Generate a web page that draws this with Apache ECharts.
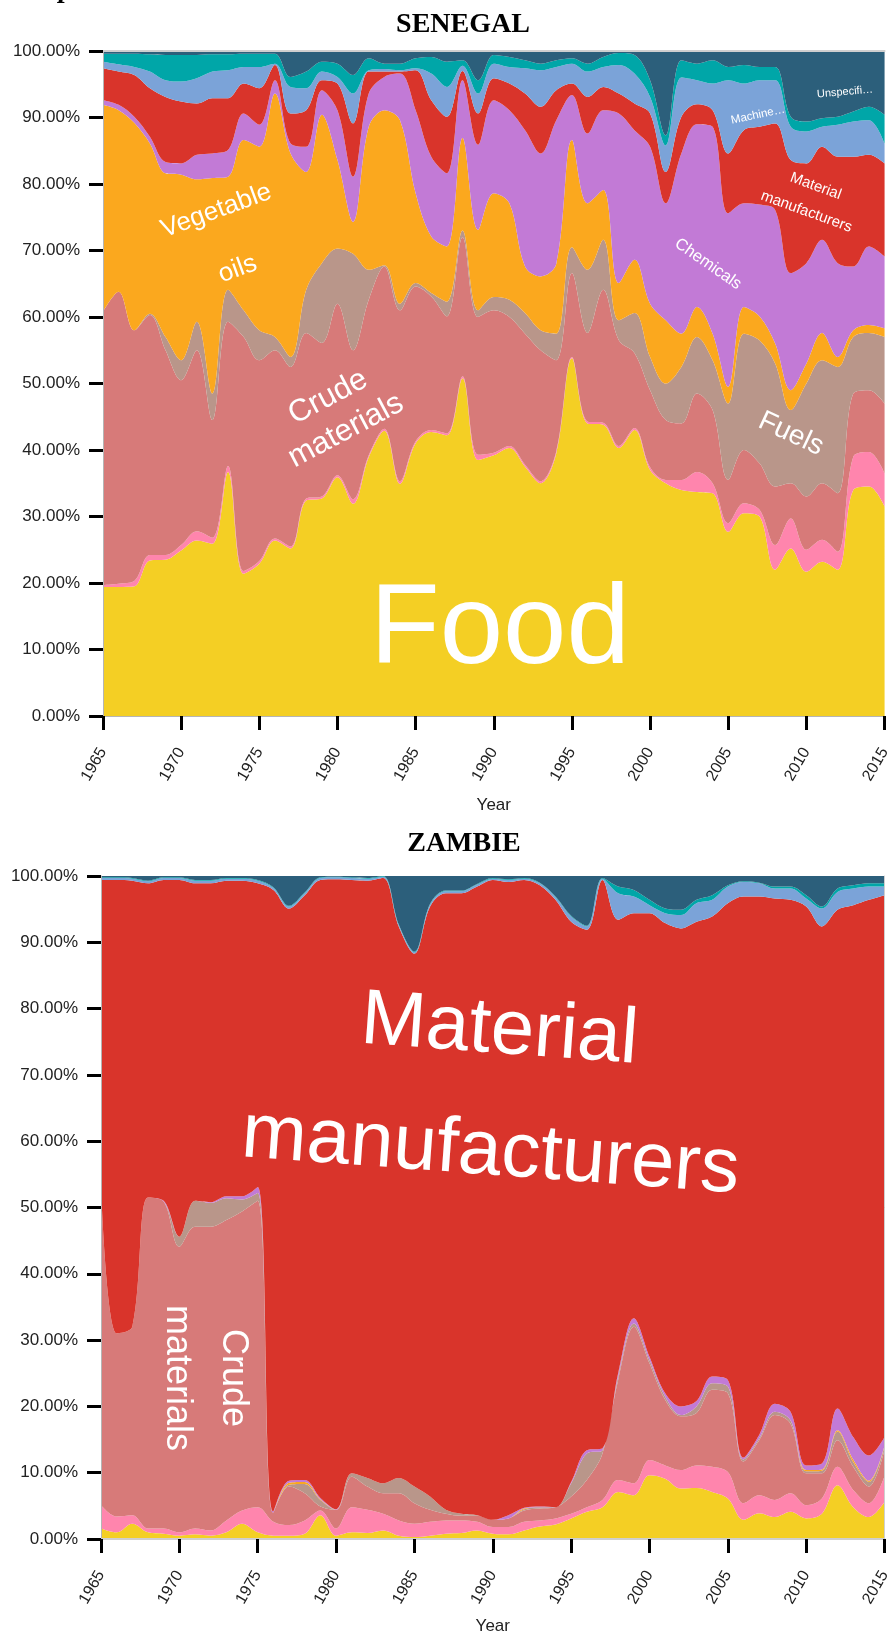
<!DOCTYPE html>
<html>
<head>
<meta charset="utf-8">
<script src="https://cdn.jsdelivr.net/npm/echarts@6.0.0/dist/echarts.min.js"></script>
<style>
  html, body { margin: 0; padding: 0; background: #fff; }
  #chart { width: 893px; height: 1639px; }
</style>
</head>
<body>
<div id="chart"></div>
<script>
// years on the x axis
const years = ['1965','1966','1967','1968','1969','1970','1971','1972','1973','1974',
  '1975','1976','1977','1978','1979','1980','1981','1982','1983','1984',
  '1985','1986','1987','1988','1989','1990','1991','1992','1993','1994',
  '1995','1996','1997','1998','1999','2000','2001','2002','2003','2004',
  '2005','2006','2007','2008','2009','2010','2011','2012','2013','2014','2015'];

const productNames = ['Food', 'Beverages and tobacco', 'Crude materials', 'Fuels', 'Vegetable oils',
  'Chemicals', 'Material manufacturers', 'Machine and transport equipment',
  'Miscellaneous manufactured articles', 'Unspecified'];

// SENEGAL, share of exports (%)
const senFood = [19.4,19.4,19.5,23.4,23.5,24.9,26.4,25.9,36.7,21.4,22.9,26.4,25.2,32.4,32.7,35.9,31.9,38.9,42.9,34.9,41.0,42.7,42.2,50.8,38.5,39.2,40.3,37.5,35.0,39.5,53.8,44.0,43.8,40.3,43.0,37.0,35.0,34.0,33.7,33.5,27.7,30.5,30.0,22.0,25.2,21.7,23.2,22.0,34.0,34.5,31.5];
const senBeverages = [0.3,0.5,0.8,0.8,0.7,0.8,1.4,0.9,0.9,0.4,0.4,0.3,0.3,0.3,0.3,0.3,0.7,0.3,0.3,0.4,0.3,0.3,0.3,0.3,0.8,0.4,0.3,0.3,0.3,0.3,0.2,0.3,0.3,0.3,0.3,0.4,0.5,1.5,3.0,1.5,1.3,1.5,1.0,3.7,4.5,3.3,3.3,2.7,5.0,5.2,5.0];
const senCrude = [41.1,43.9,37.7,36.1,30.8,24.8,27.2,17.7,21.7,35.2,30.2,28.3,27.0,24.9,23.1,25.8,22.4,23.4,24.4,25.7,23.3,20.1,17.6,20.9,20.7,21.4,19.4,19.7,19.7,13.7,12.6,13.3,20.0,15.9,11.3,11.6,9.0,8.5,11.8,11.0,6.5,8.0,7.0,8.8,5.3,8.0,8.5,8.8,9.5,9.3,10.5];
const senFuels = [0,0,0,0.2,2.0,3.0,4.3,4.0,4.8,4.0,4.5,2.0,1.5,6.5,12.0,8.3,14.5,4.5,0.2,1.0,0.5,0.5,2.2,1.0,1.0,2.0,2.6,3.1,3.0,4.0,3.9,9.5,7.5,3.0,6.0,5.0,5.5,8.5,8.5,7.5,11.5,17.5,18.5,18.5,11.0,17.0,18.5,19.0,8.5,8.6,10.0];
const senVegOils = [31.1,27.3,31.2,25.6,24.6,27.9,21.4,32.4,17.0,25.6,27.6,36.6,30.6,17.7,22.3,13.3,4.8,21.5,23.3,27.6,13.5,8.5,8.3,13.9,12.1,15.6,14.5,7.0,8.1,10.5,16.1,10.0,7.5,5.6,8.0,8.0,9.5,5.0,4.5,4.0,2.5,4.0,3.6,3.0,3.0,3.0,4.1,1.5,1.0,1.2,1.3];
const senChemicals = [0.7,0.8,0.9,1.0,1.7,1.7,3.7,3.7,4.0,4.0,3.3,2.0,1.5,3.8,3.7,7.5,6.8,5.0,5.0,7.0,12.5,12.0,11.0,8.7,12.8,14.0,14.0,20.5,18.5,21.6,6.8,10.5,12.0,25.5,19.5,23.6,17.6,27.1,27.5,31.1,26.1,15.6,16.8,20.1,17.6,15.1,14.0,14.1,9.6,11.8,10.8];
const senMaterial = [4.8,5.0,6.3,7.3,9.8,9.3,7.7,8.3,7.8,4.5,5.5,2.3,4.5,5.5,1.5,4.0,8.0,3.3,0.8,0.3,6.0,8.5,8.5,1.4,4.7,3.3,4.0,5.5,7.0,4.5,1.7,5.5,3.5,3.0,4.0,5.0,4.7,5.5,3.0,2.5,9.0,11.0,11.7,13.0,17.0,15.0,14.0,16.0,16.5,13.8,14.0];
const senMachine = [1.0,1.1,1.2,2.5,2.5,3.0,3.8,4.0,4.2,2.5,3.2,0.2,4.0,3.3,1.3,1.0,4.5,0.2,0.4,0.2,0.3,4.0,4.5,0.8,3.0,2.2,2.5,3.8,5.5,3.5,3.0,3.8,3.0,4.3,4.5,2.5,4.0,5.9,3.6,4.0,11.0,7.0,7.0,6.5,5.0,4.8,3.0,4.8,5.3,5.2,3.0];
const senMisc = [1.2,1.6,2.0,2.6,3.8,4.0,3.5,2.6,2.4,2.0,2.0,1.5,1.5,2.5,1.5,2.0,2.8,1.8,0.8,1.0,1.5,2.5,3.8,0.8,2.0,1.3,1.5,1.2,1.0,1.0,0.8,1.2,1.5,1.8,2.8,2.5,1.5,2.6,2.5,3.5,2.0,2.8,2.0,2.0,1.5,1.5,1.3,1.2,1.5,2.0,4.3];
const senUnspecified = [0.4,0.4,0.4,0.5,0.6,0.6,0.6,0.5,0.5,0.4,0.4,0.4,3.9,3.1,1.6,1.9,3.6,1.1,1.9,1.9,1.1,0.9,1.6,1.4,4.4,0.6,0.9,1.4,1.9,1.4,1.1,1.9,0.9,0.3,0.6,4.4,12.7,1.4,1.9,1.4,2.4,2.1,2.4,2.4,9.9,10.6,10.1,9.9,9.1,8.4,9.6];

// ZAMBIE, share of exports (%)
const zamFood = [1.6,1.0,2.3,1.0,0.8,0.5,0.7,0.5,1.0,2.3,1.0,0.5,0.5,0.8,3.6,0.5,1.0,0.9,1.3,0.5,0.3,0.5,0.8,0.9,1.3,0.8,0.7,1.3,1.9,2.2,3.1,4.1,4.8,7.1,6.6,9.6,9.1,7.6,7.7,7.1,6.1,2.9,3.9,3.3,4.1,3.1,3.8,8.1,4.8,3.3,5.6];
const zamBeverages = [3.5,2.4,1.3,0.6,0.8,0.5,0.9,0.8,1.8,2.0,3.8,2.1,1.6,2.0,0.7,1.1,3.8,3.5,2.5,2.3,2.0,2.1,2.0,1.9,1.3,1.0,1.1,1.3,0.9,0.9,0.7,0.7,1.1,1.8,1.8,2.3,2.0,2.8,3.4,3.8,4.0,2.5,2.7,2.6,2.8,2.0,2.3,2.8,2.6,2.1,3.9];
const zamCrude = [47.9,27.6,28.4,49.9,49.3,43.1,45.5,45.8,45.3,45.1,46.2,1.4,5.8,4.1,0.6,2.8,4.6,3.5,3.1,4.1,3.1,1.8,1.0,0.7,0.9,1.1,1.3,1.7,1.8,1.7,2.6,4.1,7.0,15.1,23.6,14.6,9.9,8.1,7.9,11.6,11.9,6.3,8.3,12.8,10.5,4.8,3.8,4.0,3.5,2.5,4.0];
const zamFuels = [0,0,0,0,0,1.5,3.9,3.6,3.3,1.8,1.2,0,0.3,1.4,1.0,0,0.5,1.3,1.5,2.3,2.5,2.0,0.6,0.3,0.1,0,0,0.2,0.2,0,2.0,4.0,0.5,0.5,0.5,0.5,0.5,0.2,1.0,1.0,1.0,0.3,0.3,0.5,0.5,0.3,0.4,1.3,0.7,0.7,0.5];
const zamVegOils = [0,0,0,0,0,0,0,0,0,0,0,0,0.3,0.3,0.1,0,0,0,0,0,0,0,0,0,0,0,0,0.1,0,0,0,0,0,0,0,0,0,0,0,0,0,0,0,0,0,0.2,0.2,0.2,0.4,0.2,0.1];
const zamChemicals = [0,0,0,0,0.1,0,0,0.1,0.3,0.5,0.9,0.2,0.3,0.3,0.2,0.1,0,0,0,0,0,0,0,0,0,0,0.5,0.1,0.1,0,0.2,0.5,0.3,0.5,0.8,0.5,0.5,1.3,0.8,1.0,1.0,0.3,0.5,1.2,1.3,0.7,0.9,3.3,3.4,3.8,1.3];
const zamMaterial = [46.4,68.4,67.3,47.4,48.4,53.8,47.9,48.1,47.6,47.6,45.8,93.7,86.3,88.2,93.2,95.0,89.5,90.1,91.3,83.2,80.4,89.0,93.0,93.6,94.8,96.5,95.5,94.7,93.7,91.6,84.5,78.5,85.7,68.4,61.1,66.9,70.9,72.1,72.3,69.4,71.9,84.6,81.2,76.2,77.2,84.3,81.0,75.2,80.2,83.8,81.7];
const zamMachine = [0.3,0.3,0.3,0.3,0.3,0.3,0.4,0.4,0.3,0.3,0.4,0.3,0.3,0.3,0.3,0.3,0.3,0.3,0.2,0.2,0.2,0.3,0.3,0.3,0.3,0.2,0.3,0.2,0.3,0.4,0.8,0.5,0.2,4.0,2.5,1.2,1.5,2.0,2.8,2.5,2.5,2.2,2.0,1.5,1.7,1.2,2.7,2.7,2.5,2.0,1.3];
const zamMisc = [0.1,0.1,0.1,0.1,0.1,0.1,0.1,0.1,0.1,0.1,0.1,0.1,0.1,0.1,0.1,0.1,0.1,0.1,0.1,0.1,0.1,0.1,0.1,0.1,0.1,0.1,0.1,0.1,0.1,0.1,0.1,0.1,0.1,1.0,1.0,0.8,0.7,0.8,0.5,0.7,0.2,0.1,0.1,0.3,0.3,0.5,0.3,0.5,0.5,0.5,0.5];
const zamUnspecified = [0.2,0.2,0.3,0.7,0.2,0.2,0.6,0.6,0.3,0.3,0.6,1.7,4.5,2.5,0.2,0.1,0.2,0.3,0.0,7.3,11.4,4.2,2.2,2.2,1.2,0.3,0.5,0.3,1.0,3.1,6.0,7.5,0.3,1.6,2.1,3.6,4.9,5.1,3.6,2.9,1.4,0.8,1.0,1.6,1.6,2.9,4.6,1.9,1.4,1.1,1.1];

const senegal = [senFood, senBeverages, senCrude, senFuels, senVegOils, senChemicals, senMaterial, senMachine, senMisc, senUnspecified];
const zambie = [zamFood, zamBeverages, zamCrude, zamFuels, zamVegOils, zamChemicals, zamMaterial, zamMachine, zamMisc, zamUnspecified];

const colors = ['#f4cf24', '#ff85ad', '#d77a79', '#b9968a', '#fba81e', '#c27ad6', '#d9342b', '#7ba3d8', '#00a6a8', '#2c5f7b'];

const sans = '"Liberation Sans", Arial, Helvetica, sans-serif';
const serif = '"Liberation Serif", "Times New Roman", serif';

function stackSeries(lists, stack, idx) {
  return lists.map((data, i) => ({
    name: productNames[i],
    type: 'line',
    stack: stack,
    xAxisIndex: idx,
    yAxisIndex: idx,
    data: data,
    smooth: 0.35,
    symbol: 'none',
    lineStyle: { width: 0 },
    areaStyle: { color: colors[i], opacity: 1 },
    itemStyle: { color: colors[i] },
    emphasis: { disabled: true },
    z: 2
  }));
}

function xAxisFor(gridIndex, nameGap) {
  return {
    type: 'category', gridIndex, data: years, boundaryGap: false,
    name: 'Year', nameLocation: 'middle', nameGap,
    nameTextStyle: { fontFamily: sans, fontSize: 17, color: '#222' },
    axisLine: { show: true, lineStyle: { color: '#b5b5b5', width: 1 } },
    axisTick: { show: true, interval: 4, length: 14, lineStyle: { color: '#000', width: 3 } },
    axisLabel: { interval: 4, rotate: 60, margin: 33, fontFamily: sans, fontSize: 16, color: '#222' },
    splitLine: { show: false },
    z: 5
  };
}

function yAxisFor(gridIndex) {
  return {
    type: 'value', gridIndex, min: 0, max: 100, interval: 10,
    axisLine: { show: true, lineStyle: { color: '#b5b5b5', width: 1 } },
    axisTick: { show: true, length: 14, lineStyle: { color: '#000', width: 3 } },
    axisLabel: { margin: 23, fontFamily: sans, fontSize: 17, color: '#222',
      formatter: v => v.toFixed(2) + '%' },
    splitLine: { show: false },
    z: 5
  };
}

function frameX(gridIndex) {
  return { type: 'category', gridIndex, data: years, boundaryGap: false, position: 'top',
    axisLine: { show: true, lineStyle: { color: '#cfcfcf', width: 2 } },
    axisTick: { show: false }, axisLabel: { show: false }, splitLine: { show: false }, z: 5 };
}
function frameY(gridIndex) {
  return { type: 'value', gridIndex, min: 0, max: 100, position: 'right',
    axisLine: { show: true, lineStyle: { color: '#cfcfcf', width: 1 } },
    axisTick: { show: false }, axisLabel: { show: false }, splitLine: { show: false }, z: 5 };
}

function areaLabel(text, x, y, deg, size, lineHeight) {
  return {
    type: 'text', x, y, rotation: deg * Math.PI / 180, z: 50, silent: true,
    style: {
      text, fill: '#fff', font: size + 'px ' + sans,
      textAlign: 'center', textVerticalAlign: 'middle',
      lineHeight: lineHeight || size
    }
  };
}

function title(text, x, y) {
  return {
    type: 'text', x, y, z: 50, silent: true,
    style: { text, fill: '#000', font: 'bold 28px ' + serif, textAlign: 'center', textVerticalAlign: 'middle' }
  };
}

const chart = echarts.init(document.getElementById('chart'), null, { renderer: 'canvas' });

chart.setOption({
  animation: false,
  backgroundColor: '#fff',
  grid: [
    { left: 103, top: 51, width: 789, height: 665 },
    { left: 101, top: 876, width: 789, height: 663 }
  ],
  xAxis: [xAxisFor(0, 81), xAxisFor(1, 79), frameX(0), frameX(1)],
  yAxis: [yAxisFor(0), yAxisFor(1), frameY(1)],
  series: [].concat(stackSeries(senegal, 'senegal', 0), stackSeries(zambie, 'zambie', 1)),
  graphic: [
    // tail of a caption line cut off by the top edge
    { type: 'text', x: 66, y: -10, z: 50, silent: true,
      style: { text: 'p', fill: '#000', font: 'italic bold 28px ' + serif, textAlign: 'center', textVerticalAlign: 'middle' } },
    title('SENEGAL', 463, 25),
    title('ZAMBIE', 464, 844),
    // Senegal area labels
    areaLabel('Food', 500, 632, 0, 114),
    areaLabel('Vegetable\noils', 227, 240, 20, 26, 62),
    areaLabel('Crude\nmaterials', 337, 414, 28, 31, 38),
    areaLabel('Chemicals', 708, 264, -35, 16.5),
    areaLabel('Material\nmanufacturers', 811, 199, -20, 15, 27),
    areaLabel('Machine…', 758, 115, 12, 11.5),
    areaLabel('Unspecifi…', 845, 92, 5, 11),
    areaLabel('Fuels', 791, 434, -25, 28),
    // Zambie area labels
    areaLabel('Material\nmanufacturers', 495, 1092, -4.2, 78, 122),
    areaLabel('Crude\nmaterials', 205, 1378, -90, 36, 56)
  ]
});
</script>
</body>
</html>
